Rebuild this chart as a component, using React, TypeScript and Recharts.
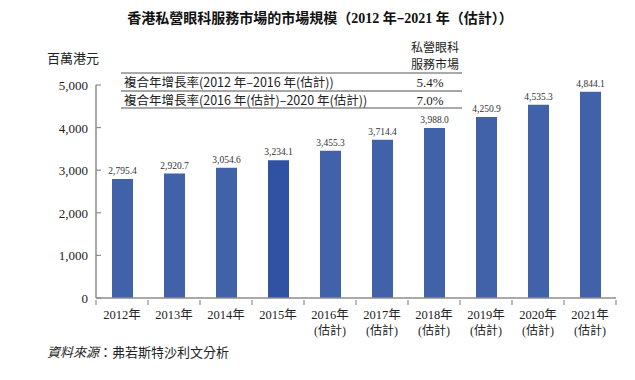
import React from "react";
import { BarChart, Bar, XAxis, YAxis, LabelList, Cell } from "recharts";

const categories = ["2012年", "2013年", "2014年", "2015年", "2016年", "2017年", "2018年", "2019年", "2020年", "2021年"];
const estimated = [false, false, false, false, true, true, true, true, true, true];
const values = [2795.4, 2920.7, 3054.6, 3234.1, 3455.3, 3714.4, 3988.0, 4250.9, 4535.3, 4844.1];
const yTicks = [0, 1000, 2000, 3000, 4000, 5000];
const cagrRows = [
  { label: "複合年增長率(2012 年–2016 年(估計))", value: "5.4%" },
  { label: "複合年增長率(2016 年(估計)–2020 年(估計))", value: "7.0%" },
];

const data = categories.map((c, i) => ({ name: c, value: values[i], est: estimated[i] }));

const SERIF = "'Liberation Serif', 'Noto Sans CJK TC', serif";
const CJK = "'Noto Sans CJK TC', 'Liberation Serif', serif";
const AXIS = "#8c8c8c";
const BAR = "#4161a9";
const BAR_DARK = "#3152a3";

const fmt = (v: number) => v.toLocaleString("en-US", { minimumFractionDigits: 1, maximumFractionDigits: 1 });

const YTick = (props: any) => {
  const { x, y, payload } = props;
  return (
    <g>
      <text x={x} y={y} dy={5} textAnchor="end" fontFamily={SERIF} fontSize={13} fill="#222">
        {payload.value.toLocaleString("en-US")}
      </text>
      <line x1={x + 8} x2={x + 13} y1={y} y2={y} stroke={AXIS} strokeWidth={1.2} />
    </g>
  );
};

const XTick = (props: any) => {
  const { x, y, payload, index } = props;
  const half = 26;
  const isEst = estimated[index];
  return (
    <g>
      <line x1={x - half} x2={x - half} y1={y - 6} y2={y - 1} stroke={AXIS} strokeWidth={1.2} />
      {index === categories.length - 1 && (
        <line x1={x + half} x2={x + half} y1={y - 6} y2={y - 1} stroke={AXIS} strokeWidth={1.2} />
      )}
      <text x={x} y={y + 13} textAnchor="middle" fontSize={12.5} fill="#222">
        <tspan fontFamily={SERIF}>{payload.value.replace("年", "")}</tspan>
        <tspan fontFamily={CJK}>年</tspan>
      </text>
      {isEst && (
        <text x={x} y={y + 29} textAnchor="middle" fontSize={12} fill="#222">
          <tspan fontFamily={SERIF}>(</tspan>
          <tspan fontFamily={CJK}>估計</tspan>
          <tspan fontFamily={SERIF}>)</tspan>
        </text>
      )}
    </g>
  );
};

export default function App() {
  return (
    <div style={{ position: "absolute", left: 0, top: 0, width: 635, height: 380, background: "#fff" }}>
      <BarChart
        width={635}
        height={380}
        data={data}
        margin={{ top: 85, right: 19, bottom: 42, left: 0 }}
        barSize={21}
      >
        <text x={320} y={23} textAnchor="middle" fontSize={14} fontWeight="bold" fill="#111" fontFamily={CJK}>
          香港私營眼科服務市場的市場規模（<tspan fontFamily={SERIF}>2012 </tspan>年–<tspan fontFamily={SERIF}>2021 </tspan>年（估計））
        </text>
        <text x={47} y={63} fontSize={13} fill="#222" fontFamily={CJK}>百萬港元</text>
        <text x={435} y={52} textAnchor="middle" fontSize={12} fill="#222" fontFamily={CJK}>私營眼科</text>
        <text x={435} y={69} textAnchor="middle" fontSize={12} fill="#222" fontFamily={CJK}>服務市場</text>
        <line x1={121} x2={462} y1={73} y2={73} stroke="#555" strokeWidth={1} />
        <line x1={121} x2={462} y1={91} y2={91} stroke="#888" strokeWidth={1.5} />
        <line x1={121} x2={462} y1={108} y2={108} stroke="#555" strokeWidth={1} />
        {cagrRows.map((r, i) => (
          <g key={i}>
            <text x={124} y={87 + i * 17.5} fontSize={12.5} fill="#222" fontFamily={CJK}>{r.label}</text>
            <text x={430} y={87 + i * 17.5} textAnchor="middle" fontSize={13} fill="#222" fontFamily={SERIF}>{r.value}</text>
          </g>
        ))}
        <XAxis
          dataKey="name"
          height={40}
          interval={0}
          axisLine={{ stroke: AXIS, strokeWidth: 1.5 }}
          tickLine={false}
          tick={<XTick />}
        />
        <YAxis
          width={96}
          domain={[0, 5000]}
          ticks={yTicks}
          interval={0}
          tickSize={0}
          tickMargin={8}
          axisLine={{ stroke: AXIS, strokeWidth: 1.5 }}
          tickLine={false}
          tick={<YTick />}
        />
        <Bar dataKey="value" isAnimationActive={false}>
          {data.map((d, i) => (
            <Cell key={i} fill={i === 3 ? BAR_DARK : BAR} />
          ))}
          <LabelList
            dataKey="value"
            position="top"
            offset={5}
            formatter={(v: any) => fmt(Number(v))}
            style={{ fontFamily: SERIF, fontSize: 9.5, fill: "#333" }}
          />
        </Bar>
        <text x={47} y={357} fontSize={13} fill="#222" fontFamily={CJK}>
          <tspan fontStyle="italic">資料來源</tspan>：弗若斯特沙利文分析
        </text>
      </BarChart>
    </div>
  );
}
